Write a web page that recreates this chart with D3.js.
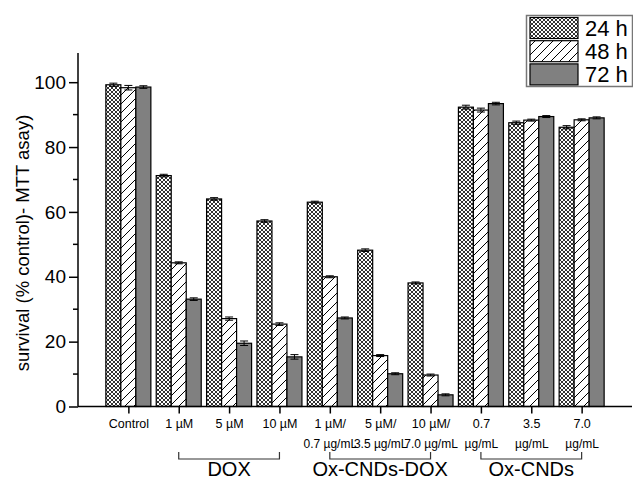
<!DOCTYPE html>
<html>
<head>
<meta charset="utf-8">
<script src="https://cdn.jsdelivr.net/npm/d3@7"></script>
<style>
  body { margin: 0; background: #fff; }
  text { font-family: "Liberation Sans", Arial, sans-serif; }
</style>
</head>
<body>
<svg id="chart" width="633" height="481"></svg>
<script>
var categories = ["Control","1 µM","5 µM","10 µM","1 µM/","5 µM/","10 µM/","0.7","3.5","7.0"];
var catLine2 = ["","","","","0.7 µg/mL","3.5 µg/mL","7.0 µg/mL","µg/mL","µg/mL","µg/mL"];
var series = ["24 h","48 h","72 h"];
var v24 = [99.2, 71.2, 64.0, 57.2, 63.0, 48.2, 38.1, 92.3, 87.5, 86.1];
var v48 = [98.3, 44.3, 27.1, 25.4, 40.0, 15.7, 9.7, 91.4, 88.3, 88.4];
var v72 = [98.5, 33.1, 19.5, 15.3, 27.3, 10.1, 3.6, 93.4, 89.4, 89.0];
var e24 = [0.5, 0.4, 0.4, 0.4, 0.3, 0.4, 0.3, 0.6, 0.5, 0.5];
var e48 = [0.7, 0.3, 0.5, 0.4, 0.3, 0.3, 0.3, 0.6, 0.3, 0.3];
var e72 = [0.4, 0.4, 0.7, 0.7, 0.3, 0.3, 0.3, 0.4, 0.3, 0.3];
var groupNames = ["DOX","Ox-CNDs-DOX","Ox-CNDs"];
var groupStart = ["1 µM","1 µM/","0.7"];
var groupEnd = ["10 µM","10 µM/","7.0"];
var yTicks = [0, 20, 40, 60, 80, 100];
var yMinor = [10, 30, 50, 70, 90];

var values = [v24, v48, v72];
var errs = [e24, e48, e72];
var fills = ["url(#cross)", "url(#hatch)", "#808080"];

var svg = d3.select('#chart');

var defs = svg.append('defs');
var cross = defs.append('pattern')
  .attr('id','cross')
  .attr('patternUnits','userSpaceOnUse')
  .attr('width',4).attr('height',4);
cross.append('rect').attr('width',4).attr('height',4).style('fill','#fff');
cross.append('path')
  .attr('d','M0,0L4,4M4,0L0,4')
  .style('stroke','#333').style('stroke-width',1);

var hatch = defs.append('pattern')
  .attr('id','hatch')
  .attr('patternUnits','userSpaceOnUse')
  .attr('width',9).attr('height',9);
hatch.append('rect').attr('width',9).attr('height',9).style('fill','#fff');
hatch.append('path')
  .attr('d','M0,9L9,0M-1,1L1,-1M8,10L10,8')
  .style('stroke','#000').style('stroke-width',1);

var x = d3.scalePoint()
  .domain(categories)
  .range([78, 632])
  .padding(1);

var sub = d3.scaleBand()
  .domain(series)
  .range([-22.5, 22.5]);

var y = d3.scaleLinear()
  .domain([0, 109])
  .range([406.5, 53]);

// bars
series.forEach(function(s, si) {
  var g = svg.append('g');
  g.selectAll('rect')
    .data(categories)
    .enter()
    .append('rect')
    .attr('x', function(d) { return x(d) + sub(s); })
    .attr('width', sub.bandwidth())
    .attr('y', function(d, i) { return y(values[si][i]); })
    .attr('height', function(d, i) { return y(0) - y(values[si][i]); })
    .style('fill', fills[si])
    .style('stroke', '#000')
    .style('stroke-width', 1.2);

  // error bars
  g.selectAll('path.err')
    .data(categories)
    .enter()
    .append('path')
    .attr('class','err')
    .attr('d', function(d, i) {
      var cx = x(d) + sub(s) + sub.bandwidth()/2;
      var top = y(values[si][i] + errs[si][i]);
      var bot = y(values[si][i] - errs[si][i]);
      return 'M'+(cx-4)+','+top+'H'+(cx+4)+'M'+cx+','+top+'V'+bot+'M'+(cx-4)+','+bot+'H'+(cx+4);
    })
    .style('stroke','#000')
    .style('stroke-width',1);
});

// y axis
var yAxis = d3.axisLeft(y)
  .tickValues(yTicks)
  .tickSize(9)
  .tickPadding(3)
  .tickFormat(d3.format('d'));
var yg = svg.append('g')
  .attr('transform','translate(78,0)')
  .call(yAxis);
yg.select('.domain').attr('d','M0,53V'+y(0)).style('stroke-width',1.5);
yg.selectAll('.tick line').style('stroke-width',1.5);
yg.selectAll('.tick text').style('font-size','19px').style('font-family','"Liberation Sans", Arial, sans-serif');
yg.selectAll('.minor')
  .data(yMinor)
  .enter()
  .append('line')
  .attr('class','minor')
  .attr('x1',-5).attr('x2',0)
  .attr('y1',function(d){return y(d);})
  .attr('y2',function(d){return y(d);})
  .style('stroke','#000').style('stroke-width',1.5);

// x axis
var xAxis = d3.axisBottom(x)
  .tickSize(7)
  .tickPadding(6);
var xg = svg.append('g')
  .attr('transform','translate(0,'+y(0)+')')
  .call(xAxis);
xg.select('.domain').attr('d','M78,0H632').style('stroke-width',1.5);
xg.selectAll('.tick line').style('stroke-width',1.5);
xg.selectAll('.tick text')
  .style('font-size','12.5px')
  .style('font-family','"Liberation Sans", Arial, sans-serif');
xg.selectAll('.tick')
  .append('text')
  .attr('y', 41)
  .attr('fill','#000')
  .style('font-size','12px')
  .style('text-anchor','middle')
  .text(function(d, i) { return catLine2[i]; });

// group brackets
groupNames.forEach(function(name, gi) {
  var x0 = x(groupStart[gi]), x1 = x(groupEnd[gi]);
  svg.append('path')
    .attr('d','M'+x0+',452V459H'+x1+'V452')
    .style('fill','none')
    .style('stroke','#333')
    .style('stroke-width',1.2);
  svg.append('text')
    .attr('x',(x0+x1)/2)
    .attr('y',476)
    .attr('text-anchor','middle')
    .style('font-size','20px')
    .text(name);
});

// y label
svg.append('text')
  .attr('transform','translate(29,243) rotate(-90)')
  .attr('text-anchor','middle')
  .style('font-size','18.5px')
  .text('survival (% control)- MTT asay)');

// legend
var legend = svg.append('g');
legend.append('rect')
  .attr('x',526.5).attr('y',15.5)
  .attr('width',106).attr('height',71)
  .style('fill','#fff')
  .style('stroke','#777')
  .style('stroke-width',1.5);
series.forEach(function(s, si) {
  legend.append('rect')
    .attr('x',530).attr('y',17.5 + si*23.2)
    .attr('width',48).attr('height',21)
    .style('fill',fills[si])
    .style('stroke','#000')
    .style('stroke-width',1.2);
  legend.append('text')
    .attr('x',585).attr('y',36 + si*23.2)
    .style('font-size','22px')
    .text(s);
});
</script>
</body>
</html>
